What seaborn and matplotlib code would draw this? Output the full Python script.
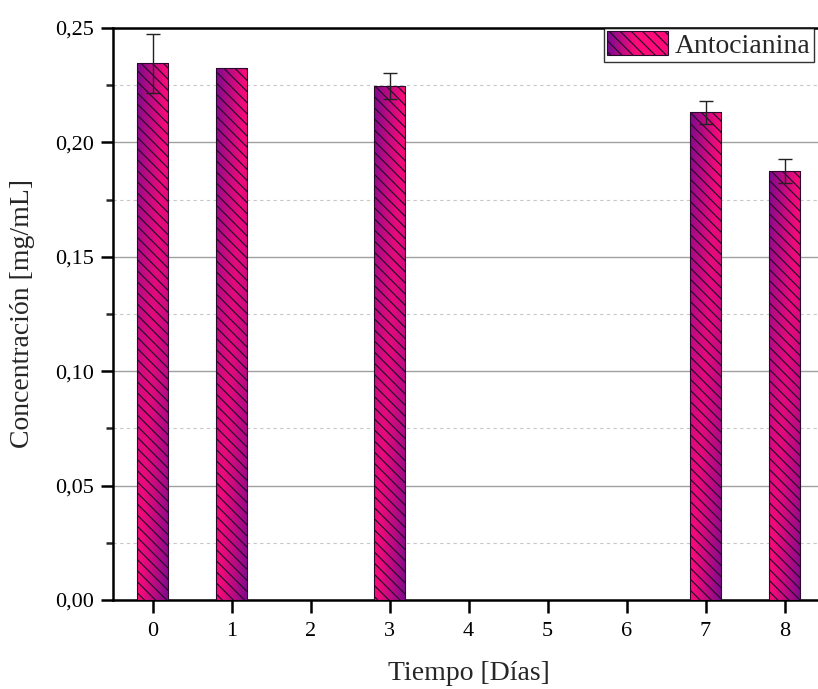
import numpy as np
import pandas as pd
import matplotlib
matplotlib.use("Agg")
import matplotlib.pyplot as plt
import seaborn as sns
from matplotlib.ticker import MultipleLocator, FuncFormatter
from matplotlib.patches import Rectangle
from matplotlib.legend_handler import HandlerBase

# === Data ===
days_all = ["0", "1", "2", "3", "4", "5", "6", "7", "8"]
days = ["0", "1", "3", "7", "8"]
conc = [0.2345, 0.2325, 0.2248, 0.2132, 0.1875]
err = [0.0130, 0.0, 0.0057, 0.0050, 0.0052]
series_name = "Antocianina"

PINK = "#ff0a78"
PURPLE = "#7c0a8e"

df = pd.DataFrame({"dia": days, "conc": conc})

sns.set_style("white")
plt.rcParams["font.family"] = ["Liberation Serif", "DejaVu Serif"]
plt.rcParams["hatch.linewidth"] = 0.9

fig = plt.figure(figsize=(8.18, 6.89), dpi=100)
ax = fig.add_axes([113 / 818, 89 / 689, 711 / 818, 572 / 689])

sns.barplot(data=df, x="dia", y="conc", order=days_all, color=PINK,
            width=0.4, errorbar=None, ax=ax, zorder=3)

# === Gradient fill clipped to each bar ===
c_pink = np.array(matplotlib.colors.to_rgb(PINK))
c_purple = np.array(matplotlib.colors.to_rgb(PURPLE))


def gradient_img(nx=40, ny=200):
    u = np.linspace(0, 1, nx)[None, :]
    v = np.linspace(1, 0, ny)[:, None]
    w = np.maximum((1 - u) * v, u * (1 - v)) ** 1.1
    return c_pink[None, None, :] * (1 - w[..., None]) + c_purple[None, None, :] * w[..., None]


for p in ax.patches:
    x0, y0 = p.get_x(), p.get_y()
    w, h = p.get_width(), p.get_height()
    if not np.isfinite(h) or h <= 0:
        continue
    p.set_facecolor("none")
    p.set_edgecolor("#2a0a2a")
    p.set_linewidth(0.8)
    p.set_hatch("\\\\\\")
    p.set_zorder(4)
    im = ax.imshow(gradient_img(), extent=[x0, x0 + w, y0, y0 + h],
                   aspect="auto", zorder=3, interpolation="bilinear")
    im.set_clip_path(p)

# === Error bars ===
pos = [days_all.index(d) for d in days]
for xp, yv, e in zip(pos, conc, err):
    if e > 0:
        ax.errorbar(xp, yv, yerr=e, fmt="none", ecolor="#222222",
                    elinewidth=1.0, capsize=5, capthick=1.0, zorder=5)

# === Axes ===
ax.set_xlim(-0.5, 8.5)
ax.set_ylim(0, 0.25)
ax.yaxis.set_major_locator(MultipleLocator(0.05))
ax.yaxis.set_minor_locator(MultipleLocator(0.025))
ax.yaxis.set_major_formatter(FuncFormatter(lambda v, _: f"{v:.2f}".replace(".", ",")))
ax.grid(which="major", axis="y", color="#a0a0a0", linewidth=1.0, zorder=0)
ax.grid(which="minor", axis="y", color="#c8c8c8", linewidth=0.8,
        linestyle=(0, (3, 3)), zorder=0)
ax.set_axisbelow(True)

for s in ax.spines.values():
    s.set_linewidth(1.8)
    s.set_color("black")

ax.tick_params(axis="both", which="major", direction="out", length=9, width=1.8,
               pad=5, labelsize=16, colors="black", bottom=True, left=True)
ax.tick_params(axis="x", which="major", pad=7)
ax.tick_params(axis="y", which="minor", direction="out", length=5, width=1.8, left=True)

ax.set_xlabel("Tiempo [Días]", fontsize=20, labelpad=14)
ax.set_ylabel("Concentración [mg/mL]", fontsize=20, labelpad=14)


# === Legend with gradient patch ===
class GradientHandler(HandlerBase):
    def create_artists(self, legend, orig_handle, xdescent, ydescent,
                       width, height, fontsize, trans):
        arts = []
        n = 24
        for i in range(n):
            t = i / (n - 1)
            wgt = max(1 - t * 2.0, 0) ** 1.1
            col = c_pink * (1 - wgt) + c_purple * wgt
            arts.append(Rectangle((-xdescent + width * i / n, -ydescent), width / n + 0.3,
                                  height, facecolor=col, edgecolor="none", transform=trans))
        arts.append(Rectangle((-xdescent, -ydescent), width, height, facecolor="none",
                              edgecolor="#2a0a2a", hatch="\\\\\\", linewidth=0.8,
                              transform=trans))
        return arts


handle = Rectangle((0, 0), 1, 1)
leg = ax.legend([handle], [series_name], handler_map={Rectangle: GradientHandler()},
                loc="upper right", fontsize=20, frameon=True, fancybox=False,
                handlelength=2.2, handleheight=0.95, borderpad=0.12,
                borderaxespad=0.0, handletextpad=0.25,
                bbox_to_anchor=(1.0 - 10 / 711, 1.0))
leg.get_frame().set_edgecolor("black")
leg.get_frame().set_linewidth(1.0)

fig.savefig("out.png", dpi=100)
